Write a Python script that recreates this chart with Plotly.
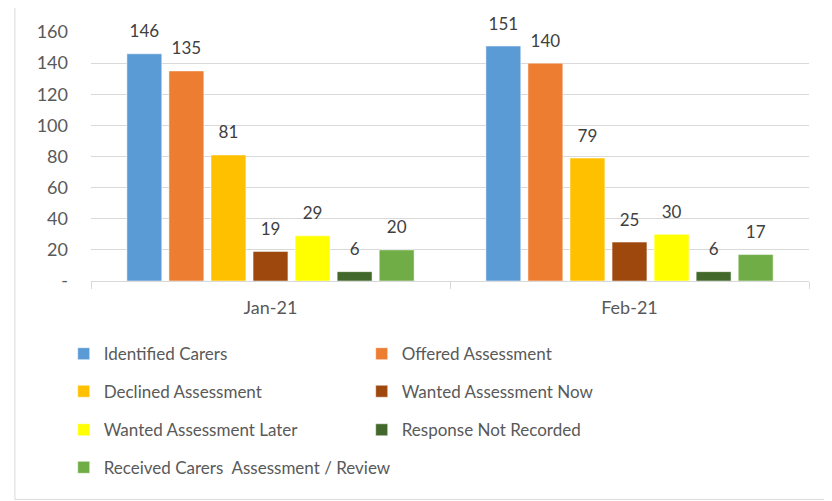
import plotly.graph_objects as go

months = ["Jan-21", "Feb-21"]
series_names = [
    "Identified Carers",
    "Offered Assessment",
    "Declined Assessment",
    "Wanted Assessment Now",
    "Wanted Assessment Later",
    "Response Not Recorded",
    "Received Carers  Assessment / Review",
]
identified = [146, 151]
offered = [135, 140]
declined = [81, 79]
wanted_now = [19, 25]
wanted_later = [29, 30]
not_recorded = [6, 6]
received = [20, 17]
values = [identified, offered, declined, wanted_now, wanted_later, not_recorded, received]
colors = ["#5B9BD5", "#ED7D31", "#FFC000", "#9E480E", "#FFFF00", "#43682B", "#70AD47"]
legend_ids = ["legend", "legend", "legend2", "legend2", "legend3", "legend3", "legend4"]

y_ticks = [0, 20, 40, 60, 80, 100, 120, 140, 160]
y_ticktext = ["-", "20", "40", "60", "80", "100", "120", "140", "160"]

FONT = "Lato"
fig = go.Figure()
for i, (name, vals, col, lg) in enumerate(zip(series_names, values, colors, legend_ids)):
    fig.add_trace(go.Bar(
        x=months, y=vals, name=name,
        marker=dict(color=col, line=dict(color="rgba(255,255,255,0.5)", width=1)),
        legend=lg, offsetgroup=str(i),
    ))
for i, vals in enumerate(values):
    fig.add_trace(go.Scatter(
        x=months, y=vals, mode="markers+text", text=[str(v) for v in vals],
        textposition="top center", showlegend=False, hoverinfo="skip",
        marker=dict(size=18, opacity=0), offsetgroup=str(i),
        textfont=dict(family=FONT, size=17, color="#404040"),
        cliponaxis=False,
    ))

rows_y = [-0.2937, -0.4445, -0.5993, -0.750]
leg_common = dict(orientation="h", xanchor="left", yanchor="middle",
                  x=-0.038, font=dict(family=FONT, size=17, color="#595959"),
                  bgcolor="rgba(0,0,0,0)", itemclick=False)

fig.update_layout(
    width=832, height=501,
    margin=dict(l=83, r=31, t=21, b=228),
    paper_bgcolor="white", plot_bgcolor="white",
    barmode="group", bargap=0.18, bargroupgap=0.17,
    scattermode="group", scattergap=0.18,
    showlegend=True,
    legend=dict(y=rows_y[0], entrywidth=253, **leg_common),
    legend2=dict(y=rows_y[1], entrywidth=253, **leg_common),
    legend3=dict(y=rows_y[2], entrywidth=253, **leg_common),
    legend4=dict(y=rows_y[3], **leg_common),
    xaxis=dict(
        type="category", showline=True, linecolor="#D9D9D9", linewidth=1,
        ticks="outside", tickson="boundaries", ticklen=7, tickcolor="#D9D9D9",
        ticklabelstandoff=10,
        tickfont=dict(family=FONT, size=18, color="#595959"), showgrid=False,
    ),
    yaxis=dict(
        range=[0, 160], tickvals=y_ticks, ticktext=y_ticktext,
        showgrid=True, gridcolor="#D9D9D9", gridwidth=1, zeroline=False,
        showline=False, ticks="", ticklabelstandoff=22,
        tickfont=dict(family=FONT, size=18, color="#595959"),
    ),
    shapes=[dict(type="rect", xref="paper", yref="paper",
                 x0=-0.106, x1=1.06, y0=-0.877, y1=1.101,
                 line=dict(color="#D9D9D9", width=1), fillcolor="rgba(0,0,0,0)", layer="below")],
)

fig.write_html("out.html")
